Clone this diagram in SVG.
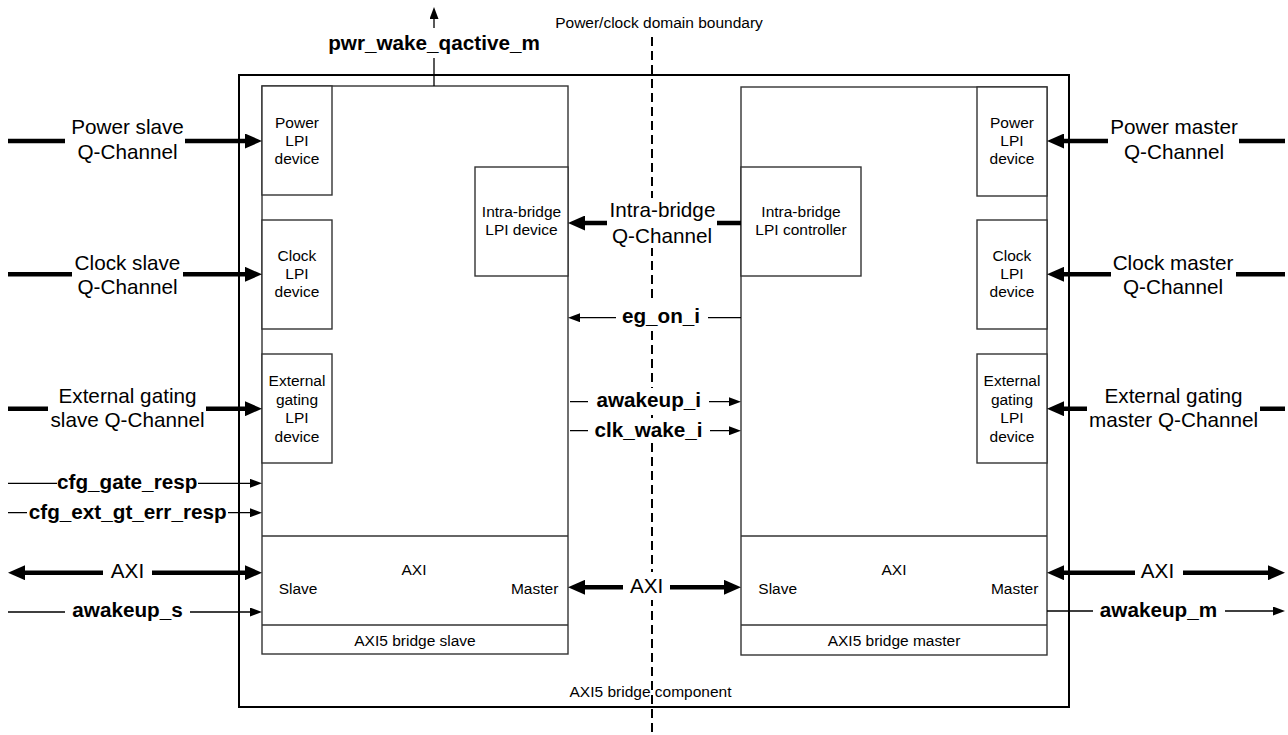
<svg xmlns="http://www.w3.org/2000/svg" width="1288" height="735" viewBox="0 0 1288 735">
<style>
text{font-family:"Liberation Sans",Arial,Helvetica,sans-serif;fill:#000}
.sm{font-size:15.5px}
.lg{font-size:20.7px}
.bd{font-size:20.7px;font-weight:bold}
.c{text-anchor:middle}
.e{text-anchor:end}
.box{fill:#fff;stroke:#333;stroke-width:1.4}
.outer{fill:#fff;stroke:#000;stroke-width:2}
.thick{fill:none;stroke:#000;stroke-width:4.5}
.thin{fill:none;stroke:#000;stroke-width:1.3}
.ta{marker-end:url(#ah)}
.tb{marker-start:url(#ah);marker-end:url(#ah)}
.na{marker-end:url(#nh)}
.dash{fill:none;stroke:#000;stroke-width:2;stroke-dasharray:9 5}
.bg{fill:#fff}
</style>
<defs>
<marker id="ah" markerUnits="userSpaceOnUse" markerWidth="17" markerHeight="15" refX="7" refY="7.5" orient="auto-start-reverse">
<path d="M0,0 L17,7.5 L0,15 z" fill="#000"/>
</marker>
<marker id="nh" markerUnits="userSpaceOnUse" markerWidth="12" markerHeight="9" refX="6" refY="4.5" orient="auto-start-reverse">
<path d="M0,0 L12,4.5 L0,9 z" fill="#000"/>
</marker>
</defs>
<rect width="1288" height="735" fill="#fff"/>

<g id="component">
<rect class="outer" x="239" y="75" width="830" height="632"/>
<text class="sm c" x="650.5" y="697.3">AXI5 bridge component</text>
</g>

<g id="bridge-slave">
<rect class="box" x="262" y="86" width="306" height="568"/>
<line class="box" x1="262" y1="536" x2="568" y2="536"/>
<line class="box" x1="262" y1="625" x2="568" y2="625"/>
<text class="sm c" x="414" y="575">AXI</text>
<text class="sm" x="278.7" y="594.3">Slave</text>
<text class="sm e" x="558.3" y="594.3">Master</text>
<text class="sm c" x="415" y="646">AXI5 bridge slave</text>
</g>
<g id="slave-power-lpi">
<rect class="box" x="262" y="86" width="70" height="109"/>
<text class="sm c" x="297" y="128">Power</text>
<text class="sm c" x="297" y="146">LPI</text>
<text class="sm c" x="297" y="164">device</text>
</g>
<g id="slave-clock-lpi">
<rect class="box" x="262" y="220" width="70" height="109"/>
<text class="sm c" x="297" y="261">Clock</text>
<text class="sm c" x="297" y="279">LPI</text>
<text class="sm c" x="297" y="297">device</text>
</g>
<g id="slave-extgate-lpi">
<rect class="box" x="262" y="354" width="70" height="109"/>
<text class="sm c" x="297" y="386">External</text>
<text class="sm c" x="297" y="404.5">gating</text>
<text class="sm c" x="297" y="423">LPI</text>
<text class="sm c" x="297" y="441.5">device</text>
</g>
<g id="intra-device">
<rect class="box" x="475" y="167" width="93" height="109"/>
<text class="sm c" x="521.5" y="216.7">Intra-bridge</text>
<text class="sm c" x="521.5" y="235">LPI device</text>
</g>

<g id="bridge-master">
<rect class="box" x="741" y="87" width="306" height="568"/>
<line class="box" x1="741" y1="536" x2="1047" y2="536"/>
<line class="box" x1="741" y1="625" x2="1047" y2="625"/>
<text class="sm c" x="894" y="575">AXI</text>
<text class="sm" x="758.3" y="594.3">Slave</text>
<text class="sm e" x="1038.3" y="594.3">Master</text>
<text class="sm c" x="894" y="646">AXI5 bridge master</text>
</g>
<g id="master-power-lpi">
<rect class="box" x="977" y="87" width="70" height="109"/>
<text class="sm c" x="1012" y="128">Power</text>
<text class="sm c" x="1012" y="146">LPI</text>
<text class="sm c" x="1012" y="164">device</text>
</g>
<g id="master-clock-lpi">
<rect class="box" x="977" y="220" width="70" height="109"/>
<text class="sm c" x="1012" y="261">Clock</text>
<text class="sm c" x="1012" y="279">LPI</text>
<text class="sm c" x="1012" y="297">device</text>
</g>
<g id="master-extgate-lpi">
<rect class="box" x="977" y="354" width="70" height="109"/>
<text class="sm c" x="1012" y="386">External</text>
<text class="sm c" x="1012" y="404.5">gating</text>
<text class="sm c" x="1012" y="423">LPI</text>
<text class="sm c" x="1012" y="441.5">device</text>
</g>
<g id="intra-controller">
<rect class="box" x="741" y="167" width="120" height="109"/>
<text class="sm c" x="801" y="216.7">Intra-bridge</text>
<text class="sm c" x="801" y="235">LPI controller</text>
</g>

<g id="domain-boundary">
<path class="dash" d="M652 37 V735"/>
<text class="sm c" x="659" y="27.5">Power/clock domain boundary</text>
</g>

<g id="connectors">
<!-- left side -->
<path class="thick ta" d="M8 141 H65 M185 141 H252"/>
<path class="thick ta" d="M8 274.3 H72 M183 274.3 H252"/>
<path class="thick ta" d="M8 408.7 H48 M206 408.7 H252"/>
<path class="thin na" d="M8 483.3 H57 M198 483.3 H256"/>
<path class="thin na" d="M8 512.7 H27 M228 512.7 H256"/>
<path class="thick tb" d="M18 572.7 H103 M152 572.7 H252"/>
<path class="thin na" d="M8 612 H65 M190 612 H256"/>
<path class="thin na" d="M434 86 V58 M434 28 V13"/>
<!-- middle -->
<rect class="bg" x="607" y="198" width="110" height="50"/>
<rect class="bg" x="616" y="303" width="92" height="27"/>
<rect class="bg" x="588" y="388" width="121" height="25"/>
<rect class="bg" x="588" y="418" width="122" height="25"/>
<rect class="bg" x="623" y="572" width="47" height="28"/>
<path class="thick ta" d="M741 223 H717 M607 223 H578"/>
<path class="thin na" d="M741 317.7 H708 M616 317.7 H574"/>
<path class="thin na" d="M570 401.7 H588 M709 401.7 H735"/>
<path class="thin na" d="M570 430.7 H588 M710 430.7 H735"/>
<path class="thick tb" d="M578 587.3 H623 M670 587.3 H731"/>
<!-- right side -->
<path class="thick ta" d="M1285 141 H1239 M1108 141 H1057"/>
<path class="thick ta" d="M1285 274.3 H1236 M1111 274.3 H1057"/>
<path class="thick ta" d="M1285 408.7 H1260 M1087 408.7 H1057"/>
<path class="thick tb" d="M1057 572.7 H1135 M1183 572.7 H1275"/>
<path class="thin na" d="M1047 611 H1093 M1225 611 H1279"/>

<!-- labels -->
<text class="lg c" x="127.5" y="134">Power slave</text>
<text class="lg c" x="127.5" y="159">Q-Channel</text>
<text class="lg c" x="127.5" y="269.5">Clock slave</text>
<text class="lg c" x="127.5" y="294">Q-Channel</text>
<text class="lg c" x="127.5" y="402.7">External gating</text>
<text class="lg c" x="127.5" y="427.3">slave Q-Channel</text>
<text class="bd c" x="127.2" y="489.3">cfg_gate_resp</text>
<text class="bd c" x="127.7" y="519">cfg_ext_gt_err_resp</text>
<text class="lg c" x="127.5" y="578.3">AXI</text>
<text class="bd c" x="127.5" y="617.3">awakeup_s</text>
<text class="bd c" x="434" y="50">pwr_wake_qactive_m</text>

<text class="lg c" x="662.5" y="216.7">Intra-bridge</text>
<text class="lg c" x="662" y="242.7">Q-Channel</text>
<text class="bd c" x="661" y="323.3">eg_on_i</text>
<text class="bd c" x="648.8" y="407.3">awakeup_i</text>
<text class="bd c" x="648.5" y="436.7">clk_wake_i</text>
<text class="lg c" x="646.7" y="593.3">AXI</text>

<text class="lg c" x="1174" y="134">Power master</text>
<text class="lg c" x="1174" y="159">Q-Channel</text>
<text class="lg c" x="1173" y="269.5">Clock master</text>
<text class="lg c" x="1173" y="294">Q-Channel</text>
<text class="lg c" x="1173.5" y="402.7">External gating</text>
<text class="lg c" x="1173.5" y="427.3">master Q-Channel</text>
<text class="lg c" x="1157.5" y="578">AXI</text>
<text class="bd c" x="1158.5" y="616.7">awakeup_m</text>
</g>
</svg>
